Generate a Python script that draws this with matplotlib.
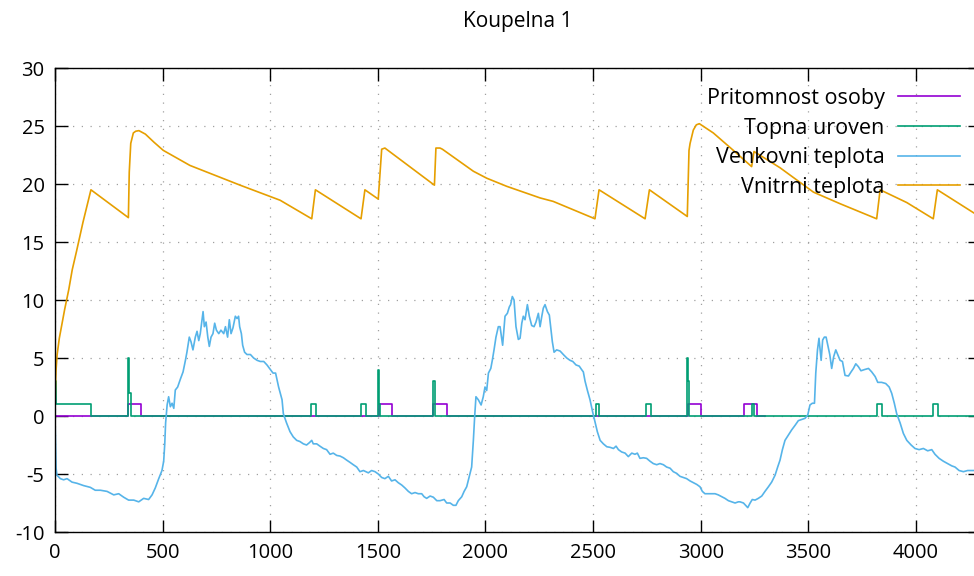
import matplotlib
matplotlib.use("Agg")
import matplotlib.pyplot as plt

# ---------------- data ----------------
# Pritomnost osoby (step, value changes at time)
pres_t = [0, 339, 401, 1504, 1565, 1758, 1823, 2940, 3000, 3202, 3263, 3300]
pres_v = [0, 1, 0, 1, 0, 1, 0, 1, 0, 1, 0, 0]

# Topna uroven (step)
heat_t = [0, 4, 167, 339, 346, 352, 1188, 1213, 1422, 1445, 1502, 1506, 1512,
          1758, 1767, 2512, 2529, 2745, 2768, 2938, 2942, 2947, 3237, 3248,
          3818, 3842, 4081, 4105, 4300]
heat_v = [3, 1, 0, 5, 2, 0, 1, 0, 1, 0, 4, 1, 0,
          3, 0, 1, 0, 1, 0, 5, 3, 0, 1, 0,
          1, 0, 1, 0, 0]

# Venkovni teplota
out_t = [0, 5, 9, 25, 40, 56, 79, 102, 133, 164, 187, 211, 242, 273, 296, 319,
         342, 366, 389, 412, 435, 451, 466, 482, 497, 505, 510, 514, 521, 528,
         536, 544, 552, 559, 570, 583, 595, 606, 613, 624, 632, 641, 652, 660,
         668, 675, 683, 688, 694, 702, 710, 717, 725, 734, 742, 750, 761, 771,
         784, 792, 802, 810, 818, 827, 838, 846, 853, 858, 866, 872, 881, 892,
         908, 923, 939, 954, 970, 985, 1001, 1013, 1025, 1039, 1055,
         1061, 1076, 1092, 1107, 1123, 1138, 1154, 1169, 1182, 1193, 1200, 1216,
         1231, 1247, 1262, 1278, 1293, 1309, 1324, 1340, 1355, 1371, 1386, 1402,
         1417, 1433, 1445, 1456, 1471, 1487, 1502, 1518, 1533, 1549, 1564, 1580,
         1595, 1611, 1626, 1642, 1657, 1673, 1688, 1704, 1715, 1727, 1743, 1758,
         1774, 1789, 1808, 1820, 1836, 1851, 1863, 1874, 1890, 1901, 1913, 1925,
         1936, 1944, 1950, 1956, 1967, 1980, 1990, 1998, 2006, 2014, 2025, 2032,
         2040, 2049, 2060,
         2068, 2080, 2091, 2102, 2111, 2117, 2125, 2133, 2142, 2153, 2161, 2169,
         2176, 2184, 2195, 2204, 2215, 2226, 2235, 2246, 2254, 2262, 2269, 2277,
         2288, 2297, 2303, 2311, 2319, 2331, 2347, 2362, 2378, 2393, 2406, 2421,
         2436, 2447, 2455, 2463, 2474, 2486, 2498, 2509, 2520, 2533, 2548, 2564,
         2579, 2595, 2607, 2618, 2633, 2649, 2664, 2680, 2695, 2706, 2718, 2734,
         2749, 2765, 2780, 2796, 2811, 2827, 2842, 2858, 2873, 2889, 2904, 2920,
         2935, 2951, 2966, 2982, 2997, 3008, 3020, 3036, 3051, 3067, 3082, 3098,
         3113, 3129, 3144, 3160, 3175,
         3183, 3199, 3219, 3230, 3240, 3253, 3268, 3284, 3299, 3315, 3330, 3346,
         3358, 3369, 3380, 3392, 3408, 3423, 3439, 3454, 3470, 3485, 3498, 3508,
         3519, 3529, 3535, 3543, 3550, 3560, 3567, 3575, 3583, 3591, 3600, 3609,
         3618, 3628, 3637, 3648, 3659, 3671, 3687, 3699, 3710, 3721, 3733, 3745,
         3761, 3780, 3795, 3811, 3823, 3841, 3860, 3876, 3888, 3900, 3911, 3927,
         3942, 3958, 3978, 3996, 4015, 4035, 4055, 4074, 4089, 4108, 4128, 4148,
         4167, 4182, 4201, 4221, 4241, 4263, 4300]
out_v = [-0.2, -4.5, -5.1, -5.4, -5.5, -5.4, -5.7, -5.8, -6.0, -6.15, -6.4, -6.4,
         -6.5, -6.8, -6.7, -7.0, -7.25, -7.25, -7.4, -7.1, -7.2, -6.8, -6.2,
         -5.4, -4.7, -3.9, -2.4, -0.6, 0.95, 1.66, 0.8, 1.1, 0.66, 2.24, 2.5,
         3.2, 3.8, 4.8, 5.5, 6.8, 6.4, 5.7, 6.8, 7.3, 6.5, 7.1, 8.3, 9.0, 7.7,
         8.1, 6.8, 6.0, 6.8, 7.1, 8.0, 7.4, 7.1, 7.4, 7.1, 7.7, 6.8, 8.3, 7.1,
         7.6, 8.6, 8.4, 8.6, 7.7, 7.1, 6.1, 5.5, 5.3, 5.3, 5.0, 4.8, 4.7, 4.7,
         4.4, 4.0, 3.7, 3.7, 2.5, 1.4,
         0.2, -0.6, -1.35, -1.8, -2.1, -2.2, -2.4, -2.5, -2.3, -2.1, -2.4, -2.4,
         -2.6, -2.8, -2.9, -3.3, -3.2, -3.4, -3.45, -3.6, -3.8, -4.0, -4.2, -4.4,
         -4.8, -4.7, -4.8, -4.9, -4.7, -4.8, -5.0, -5.3, -5.4, -5.2, -5.6, -5.5,
         -5.75, -5.95, -6.2, -6.5, -6.7, -6.6, -6.7, -6.7, -6.96, -7.1, -6.9,
         -7.0, -7.3, -7.3, -7.2, -7.5, -7.5, -7.7, -7.7, -7.3, -6.96, -6.5, -6.1,
         -5.2, -4.4, -2.1, -0.06, 1.66, 1.4, 0.95, 1.66, 2.5, 2.2, 3.7, 4.1, 4.8,
         5.7, 6.8, 7.7,
         7.7, 6.1, 8.6, 8.85, 9.4, 9.6, 10.3, 10.0, 7.7, 6.6, 6.7, 8.0, 8.6, 8.3,
         9.6, 8.6, 7.8, 7.7, 8.1, 8.85, 7.7, 8.6, 9.3, 9.6, 9.0, 8.7, 7.7, 6.4,
         5.5, 5.7, 5.6, 5.3, 5.0, 4.8, 4.7, 4.4, 4.3, 4.0, 3.8, 3.0, 2.2, 1.4,
         0.37, -0.5, -1.35, -2.1, -2.4, -2.65, -2.7, -2.8, -2.6, -2.9, -3.1, -3.2,
         -3.5, -3.2, -3.3, -3.2, -3.65, -3.6, -3.65, -3.9, -4.1, -4.2, -4.1, -4.2,
         -4.4, -4.5, -4.8, -4.95, -5.2, -5.3, -5.4, -5.6, -5.75, -5.9, -6.1, -6.5,
         -6.7, -6.7, -6.7, -6.7, -6.8, -6.96, -7.1, -7.3, -7.4, -7.5, -7.4,
         -7.4, -7.5, -7.9, -7.5, -7.2, -7.25, -7.1, -6.9, -6.5, -6.1, -5.7, -5.1,
         -4.4, -3.8, -2.9, -2.1, -1.64, -1.2, -0.8, -0.4, -0.3, -0.2, 0.1, 0.95,
         1.1, 1.1, 3.7, 5.7, 6.7, 4.8, 6.55, 6.8, 6.8, 6.1, 5.3, 4.1, 5.1, 5.7,
         5.3, 4.8, 4.7, 3.5, 3.45, 3.8, 4.1, 4.5, 4.25, 3.9, 4.0, 4.1, 3.8, 3.4,
         2.9, 2.9, 2.8, 2.5, 1.95, 1.1, 0.2, -0.6, -1.5, -2.1, -2.5, -2.8, -2.9,
         -2.8, -3.0, -2.9, -3.3, -3.65, -3.9, -4.1, -4.3, -4.4, -4.7, -4.8, -4.7,
         -4.7, -4.7]

# Vnitrni teplota
in_t = [0, 2, 5, 10, 20, 31, 45, 64, 80, 100, 130, 167, 341, 345, 352, 364, 375,
        390, 420, 460, 503, 627, 860, 1046, 1193, 1210, 1422, 1440, 1502, 1518,
        1533, 1540, 1763, 1770, 1789, 1800, 1944, 2006, 2099, 2254, 2315, 2509,
        2528, 2742, 2762, 2938, 2946, 2951, 2966, 2980, 2994, 3059, 3152, 3237,
        3248, 3369, 3524, 3648, 3818, 3834, 3958, 4081, 4100, 4270, 4300]
in_v = [0.5, 2.5, 4.0, 5.3, 6.7, 7.8, 9.2, 10.9, 12.6, 14.2, 16.7, 19.5, 17.1,
        21.0, 23.5, 24.4, 24.55, 24.6, 24.3, 23.6, 22.9, 21.6, 19.9, 18.6, 17.0,
        19.5, 17.0, 19.5, 18.7, 23.0, 23.1, 23.0, 19.9, 23.1, 23.1, 23.0, 21.1,
        20.5, 19.8, 18.8, 18.5, 17.0, 19.5, 17.0, 19.5, 17.2, 22.9, 23.5, 24.65,
        25.1, 25.2, 24.4, 22.9, 21.5, 22.8, 21.4, 19.3, 18.3, 17.0, 19.5, 18.4,
        17.0, 19.5, 17.5, 17.2]

labels = ["Pritomnost osoby", "Topna uroven", "Venkovni teplota", "Vnitrni teplota"]
colors = ["#9400d3", "#009e73", "#56b4e9", "#e69f00"]
x_ticks = [0, 500, 1000, 1500, 2000, 2500, 3000, 3500, 4000]
y_ticks = [-10, -5, 0, 5, 10, 15, 20, 25, 30]

# ---------------- figure ----------------
plt.rcParams['font.family'] = ['Open Sans', 'DejaVu Sans']
W, H = 974, 576
fig = plt.figure(figsize=(W / 100, H / 100), dpi=100)
left_px, right_px, top_px, bot_px = 55, 980.4, 68, 532
ax = fig.add_axes([left_px / W, 1 - bot_px / H, (right_px - left_px) / W,
                   (bot_px - top_px) / H])

lw = 1.2
ax.plot(pres_t, pres_v, drawstyle='steps-post', color=colors[0], lw=lw, label=labels[0])
ax.plot(heat_t, heat_v, drawstyle='steps-post', color=colors[1], lw=lw, label=labels[1])
ax.plot(out_t, out_v, color=colors[2], lw=lw, label=labels[2])
ax.plot(in_t, in_v, color=colors[3], lw=lw, label=labels[3])

ax.set_xlim(0, 4300)
ax.set_ylim(-10, 30)
ax.set_xticks(x_ticks)
ax.set_yticks(y_ticks)
ax.set_xticklabels([str(v) for v in x_ticks])
ax.set_yticklabels([str(v) for v in y_ticks])
ax.tick_params(direction='in', length=9, width=1.0, top=True, right=True,
               labelsize=14.5, colors='black')
ax.tick_params(axis='x', pad=8)
ax.tick_params(axis='y', pad=7.5)
ax.grid(True, color='#a0a0a0', linestyle=(0, (1, 6)), linewidth=0.9)
for s in ax.spines.values():
    s.set_linewidth(1.0)
    s.set_color('black')

fig.text(518 / W, 1 - 22 / H, "Koupelna 1", ha='center', va='center', fontsize=15)

leg = ax.legend(loc='upper right', bbox_to_anchor=(960 / W, 1 - 88 / H),
                bbox_transform=fig.transFigure, frameon=False, markerfirst=False,
                fontsize=15.5, handlelength=2.9, handletextpad=0.6, labelspacing=0.4,
                borderpad=0, borderaxespad=0)

fig.savefig("out.png", dpi=100)
